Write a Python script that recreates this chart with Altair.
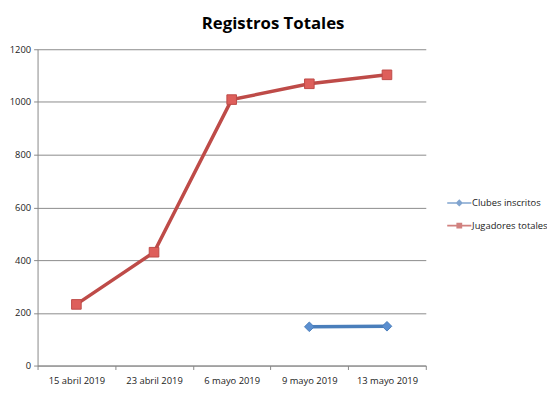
import altair as alt
import pandas as pd

fechas = ["15 abril 2019", "23 abril 2019", "6 mayo 2019", "9 mayo 2019", "13 mayo 2019"]
jugadores = [232, 430, 1009, 1069, 1103]
clubes_fechas = ["9 mayo 2019", "13 mayo 2019"]
clubes = [147, 149]
series = ["Clubes inscritos", "Jugadores totales"]
colores = ["#4A7EBB", "#BE4B48"]
rellenos = ["#5B8FD0", "#DE5F5B"]

rows = [{"fecha": f, "valor": v, "serie": series[1]} for f, v in zip(fechas, jugadores)]
rows += [{"fecha": f, "valor": v, "serie": series[0]} for f, v in zip(clubes_fechas, clubes)]
df = pd.DataFrame(rows)

font = "Open Sans"

# legend glyphs: a line with a marker in the middle
leg_diamond = "M-1,-0.07L1,-0.07L1,0.07L-1,0.07Z M0,-0.3L0.3,0L0,0.3L-0.3,0Z"
leg_square = "M-1,-0.07L1,-0.07L1,0.07L-1,0.07Z M-0.24,-0.24L0.24,-0.24L0.24,0.24L-0.24,0.24Z"

x = alt.X("fecha:N", sort=fechas, scale=alt.Scale(type="band", domain=fechas, paddingInner=0, paddingOuter=0),
          axis=alt.Axis(title=None, labelAngle=0, labelFont=font, labelFontSize=9.5, labelColor="#222",
                        domainColor="#888", tickColor="#888", tickSize=4, tickBand="extent",
                        labelPadding=6, grid=False))
y = alt.Y("valor:Q", scale=alt.Scale(domain=[0, 1200]),
          axis=alt.Axis(title=None, values=[0, 200, 400, 600, 800, 1000, 1200], format="d", labelFont=font,
                        labelFontSize=9.5, labelColor="#222", domainColor="#888", tickColor="#888",
                        tickSize=4, gridColor="#8a8a8a", gridWidth=1, labelPadding=3))

color_line = alt.Color("serie:N", scale=alt.Scale(domain=series, range=colores), legend=None)

line = alt.Chart(df).mark_line(strokeWidth=3.5).encode(x=x, y=y, color=color_line)

pts = alt.Chart(df).mark_point(filled=True, size=95, strokeWidth=1, opacity=1).encode(
    x=x, y=y,
    fill=alt.Fill("serie:N", scale=alt.Scale(domain=series, range=rellenos), legend=None),
    shape=alt.Shape("serie:N", scale=alt.Scale(domain=series, range=["diamond", "square"]), legend=None),
    stroke=alt.Stroke("serie:N", scale=alt.Scale(domain=series, range=colores), legend=None),
)

ghost = alt.Chart(df).transform_filter("false").mark_point(filled=True, size=600).encode(
    x=x, y=y,
    color=alt.Color("serie:N", scale=alt.Scale(domain=series, range=colores),
                    legend=alt.Legend(title=None, orient="none", legendX=415, legendY=143,
                                      symbolSize=600, labelFontSize=9.5, labelFont=font,
                                      labelColor="#222", rowPadding=5, labelOffset=0, symbolOffset=0)),
    shape=alt.Shape("serie:N", scale=alt.Scale(domain=series, range=[leg_diamond, leg_square])),
)

chart = alt.layer(line, pts, ghost).resolve_scale(color="independent", shape="independent").properties(
    width=394, height=321,
    autosize=alt.AutoSizeParams(type="none"),
    padding={"left": 30, "top": 39, "right": 123, "bottom": 26},
    title=alt.TitleParams("Registros Totales", font=font, fontSize=17, fontWeight="bold", color="#000",
                          anchor="middle", dx=42, offset=12),
).configure_view(stroke=None)

chart.save("out.html", embed_options={"renderer": "svg", "actions": False})
